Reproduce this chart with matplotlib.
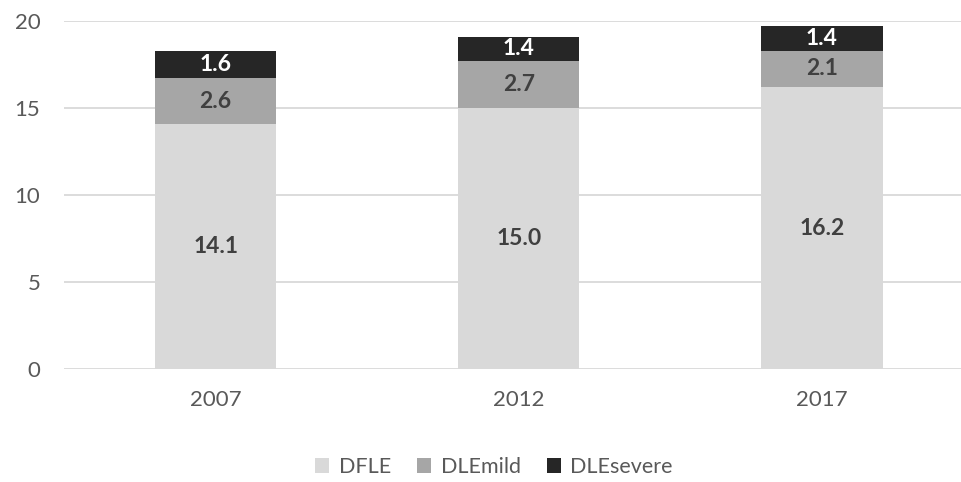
import numpy as np
import matplotlib.pyplot as plt

plt.rcParams['font.family'] = ['Lato', 'DejaVu Sans']

years = ['2007', '2012', '2017']
dfle = [14.1, 15.0, 16.2]
dle_mild = [2.6, 2.7, 2.1]
dle_severe = [1.6, 1.4, 1.4]

fig = plt.figure(figsize=(9.61, 4.82), dpi=100)
ax = fig.add_axes([64 / 961, 1 - 369 / 482, 909.5 / 961, 348 / 482])

x = np.arange(len(years))
w = 0.4
mild_bottom = np.array(dfle)
severe_bottom = mild_bottom + np.array(dle_mild)

b1 = ax.bar(x, dfle, w, color='#d9d9d9', label='DFLE', zorder=2)
b2 = ax.bar(x, dle_mild, w, bottom=mild_bottom, color='#a6a6a6', label='DLEmild', zorder=2)
b3 = ax.bar(x, dle_severe, w, bottom=severe_bottom, color='#262626', label='DLEsevere', zorder=2)

for bars, vals, bottoms, col in [(b1, dfle, np.zeros(3), '#404040'),
                                 (b2, dle_mild, mild_bottom, '#404040'),
                                 (b3, dle_severe, severe_bottom, 'white')]:
    for xi, v, b in zip(x, vals, bottoms):
        ax.text(xi, b + v / 2, f'{v:.1f}', ha='center', va='center',
                fontsize=16.5, fontweight='bold', color=col, zorder=3)

ax.set_xlim(-0.5, 2.5)
ax.set_ylim(0, 20)
ax.set_yticks([0, 5, 10, 15, 20])
ax.set_xticks(x)
ax.set_xticklabels(years)
ax.yaxis.grid(True, color='#d9d9d9', linewidth=1.3, zorder=0)
for s in ax.spines.values():
    s.set_visible(False)
ax.tick_params(length=0, labelsize=16, labelcolor='#595959')
ax.tick_params(axis='y', pad=17)
ax.tick_params(axis='x', pad=15)

fig.legend(handles=[b1, b2, b3], loc='center', bbox_to_anchor=(494 / 961, 1 - 467 / 482),
           ncol=3, frameon=False, fontsize=15.5, labelcolor='#595959',
           handlelength=0.65, handleheight=0.65, handletextpad=0.45, columnspacing=1.2)

fig.savefig('out.png', dpi=100)
